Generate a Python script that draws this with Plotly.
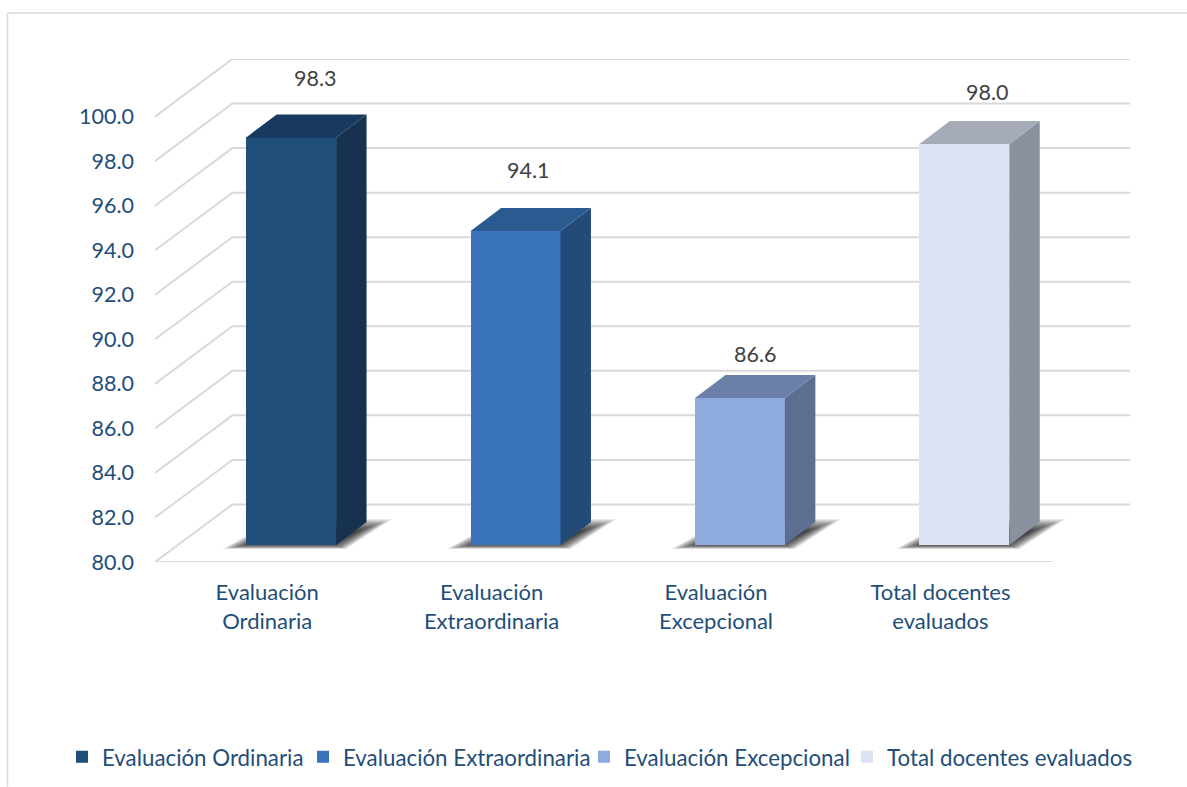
import plotly.graph_objects as go

# ---- data ----
categories = ["Evaluación<br>Ordinaria", "Evaluación<br>Extraordinaria", "Evaluación<br>Excepcional", "Total docentes<br>evaluados"]
series_names = ["Evaluación Ordinaria", "Evaluación Extraordinaria", "Evaluación Excepcional", "Total docentes evaluados"]
values = [98.3, 94.1, 86.6, 98.0]
y_ticks = [80, 82, 84, 86, 88, 90, 92, 94, 96, 98, 100]

# ---- styles ----
front_colors = ["#1f4e79", "#3873bb", "#8faadc", "#dce3f3"]
top_colors = ["#173a5e", "#2a5a90", "#6b80a8", "#a5acb8"]
side_colors = ["#16324f", "#244a78", "#5e6e90", "#8a919e"]
label_xshift = [24, 12, 15, 23]
label_yshift = [36, 38, 21, 29]
legend_px = [62, 303, 584, 847]   # left edge of each legend entry
GRID = "#d9d9d9"
BLUE = "#1f4e79"
FONT = "Lato"

# ---- layout constants ----
W, H = 1187, 787
L, R, T, B = 155, 57, 58.5, 225
PX_X, PX_Y = 224.75, 22.24      # px per axis unit
Y0 = 80
BAR_W = 90 / PX_X
PLANE_DX, PLANE_DY = 24 / PX_X, 17 / PX_Y     # bars stand inside the floor
DEPTH_DX, DEPTH_DY = 30.5 / PX_X, 23 / PX_Y   # bar depth
WALL_DX, WALL_DY = 77.5 / PX_X, 57.5 / PX_Y   # wall depth
X_MIN, X_MAX = -0.5, 3.5
x_end = X_MAX + WALL_DX
y_top = 100 + WALL_DY
plot_w, plot_h = W - L - R, H - T - B


def poly(xs, ys):
    return "M" + "L".join(f"{a},{b}" for a, b in zip(xs, ys)) + "Z"


shapes = []
# wall gridlines
for t in y_ticks:
    shapes.append(dict(type="path", layer="below", xref="x", yref="y",
                       path=f"M{X_MIN},{t}L{X_MIN + WALL_DX},{t + WALL_DY}L{x_end},{t + WALL_DY}",
                       line=dict(color=GRID, width=2)))
# floor front line
shapes.append(dict(type="line", layer="below", xref="x", yref="y", x0=X_MIN, x1=X_MAX, y0=Y0, y1=Y0,
                   line=dict(color=GRID, width=2)))

# soft floor shadows: stacked translucent footprints
fig = go.Figure()
LAYERS = 22
for i, v in enumerate(values):
    x0 = i + PLANE_DX - BAR_W / 2
    x1 = x0 + BAR_W
    base = Y0 + PLANE_DY
    for k in range(LAYERS):
        f = 1 - k / LAYERS
        lft = (30 * f - 6) / PX_X
        rgt = (36 * f - 10) / PX_X
        dn = (5 * f - 1) / PX_Y
        up = (13 * f - 10) / PX_Y
        shapes.append(dict(type="path", layer="between", xref="x", yref="y", opacity=0.055,
                           line=dict(width=0), fillcolor="#000000",
                           path=poly([x0 - lft, x1 + rgt * 0.4, x1 + DEPTH_DX + rgt, x0 + DEPTH_DX],
                                     [base - dn, base - dn, base + DEPTH_DY + up, base + DEPTH_DY + up])))

    legend_id = "legend" if i == 0 else f"legend{i + 1}"
    fig.add_trace(go.Bar(x=[i], y=[v - Y0], base=[base], width=[BAR_W], offset=PLANE_DX - BAR_W / 2,
                         name=series_names[i], legend=legend_id,
                         marker=dict(color=front_colors[i], line=dict(width=0)),
                         hovertemplate=f"{series_names[i]}: {v:.1f}<extra></extra>"))
for i, v in enumerate(values):
    x0 = i + PLANE_DX - BAR_W / 2
    x1 = x0 + BAR_W
    base = Y0 + PLANE_DY
    top = v + PLANE_DY
    fig.add_trace(go.Scatter(x=[x1, x1 + DEPTH_DX, x1 + DEPTH_DX, x1, x1],
                             y=[base, base + DEPTH_DY, top + DEPTH_DY, top, base],
                             mode="lines", fill="toself", fillcolor=side_colors[i],
                             line=dict(width=0), showlegend=False, hoverinfo="skip"))
    fig.add_trace(go.Scatter(x=[x0, x1, x1 + DEPTH_DX, x0 + DEPTH_DX, x0],
                             y=[top, top, top + DEPTH_DY, top + DEPTH_DY, top],
                             mode="lines", fill="toself", fillcolor=top_colors[i],
                             line=dict(width=0), showlegend=False, hoverinfo="skip"))

annotations = [dict(x=i + PLANE_DX, y=v + PLANE_DY + DEPTH_DY, xref="x", yref="y", text=f"{v:.1f}",
                    showarrow=False, xshift=label_xshift[i], yshift=label_yshift[i],
                    font=dict(family=FONT, size=21.5, color="#404040"))
           for i, v in enumerate(values)]

# outer chart frame (top and left only reach the picture)
frame_left = (7.5 - L) / plot_w
frame_top = (H - B - 12.5) / plot_h
shapes.append(dict(type="line", xref="paper", yref="paper", x0=frame_left, x1=(W - L) / plot_w,
                   y0=frame_top, y1=frame_top, line=dict(color=GRID, width=1.5)))
shapes.append(dict(type="line", xref="paper", yref="paper", x0=frame_left, x1=frame_left,
                   y0=frame_top, y1=-B / plot_h, line=dict(color=GRID, width=1.5)))

legends = {}
for i, px in enumerate(legend_px):
    key = "legend" if i == 0 else f"legend{i + 1}"
    legends[key] = dict(orientation="h", x=(px - L) / plot_w, xanchor="left",
                        y=(H - B - 757) / plot_h, yanchor="middle",
                        font=dict(family=FONT, size=22.3, color=BLUE), bgcolor="rgba(0,0,0,0)",
                        itemclick=False, itemdoubleclick=False)

fig.update_layout(
    width=W, height=H, margin=dict(l=L, r=R, t=T, b=B, autoexpand=False),
    paper_bgcolor="white", plot_bgcolor="rgba(0,0,0,0)", barmode="overlay", bargap=0,
    shapes=shapes, annotations=annotations,
    xaxis=dict(range=[X_MIN, x_end], tickmode="array", tickvals=list(range(4)), ticktext=categories,
               showgrid=False, zeroline=False, showline=False, ticks="", ticklabelstandoff=15,
               tickfont=dict(family=FONT, size=22, color=BLUE)),
    yaxis=dict(range=[Y0, y_top], tickmode="array", tickvals=y_ticks, ticktext=[f"{t:.1f}" for t in y_ticks],
               showgrid=False, zeroline=False, showline=False, ticks="", ticklabelstandoff=20,
               tickfont=dict(family=FONT, size=21.5, color=BLUE)),
    showlegend=True,
    **legends,
)
fig.write_html("out.html", config={"displayModeBar": False},
               post_script="document.body.style.margin='0';document.body.style.overflow='hidden';")
